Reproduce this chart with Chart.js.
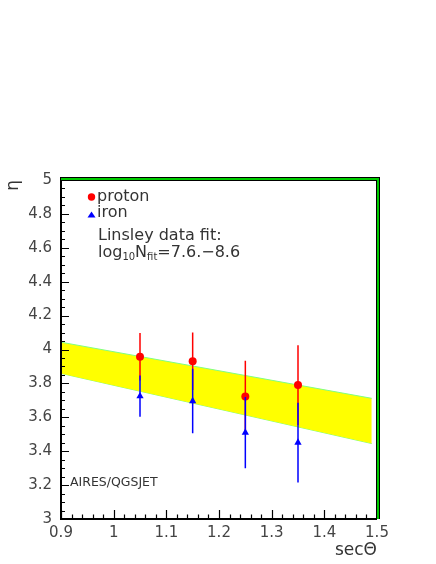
<!DOCTYPE html>
<html><head><meta charset="utf-8">
<script src="https://cdn.jsdelivr.net/npm/chart.js@4"></script>
<style>html,body{margin:0;padding:0;background:#fff;}canvas{display:block;}</style>
</head><body>
<canvas id="c" width="436" height="564"></canvas>
<script>
// ---- data ----
const secTheta  = [1.05, 1.15, 1.25, 1.35];
const protonEta = [3.957, 3.931, 3.722, 3.790];
const protonErr = [0.140, 0.170, 0.212, 0.235];
const ironEta   = [3.725, 3.696, 3.510, 3.451];
const ironErr   = [0.122, 0.190, 0.210, 0.235];
const bandX     = [0.9, 1.49];
const bandUpper = [4.043, 3.712];
const bandLower = [3.859, 3.445];
const xTicks = [0.9, 1, 1.1, 1.2, 1.3, 1.4, 1.5];
const yTicks = [3, 3.2, 3.4, 3.6, 3.8, 4, 4.2, 4.4, 4.6, 4.8, 5];
const xMinorStep = 0.02;
const yMinorStep = 0.05;

const FONT = '"DejaVu Sans", "Liberation Sans", sans-serif';

function pts(xs, ys) { return xs.map((x, i) => ({x: x, y: ys[i]})); }
function errSegments(xs, ys, es) {
  const out = [];
  xs.forEach((x, i) => {
    out.push({x: x, y: ys[i] - es[i]}, {x: x, y: ys[i] + es[i]}, {x: x, y: null});
  });
  return out;
}

const frameAndTicks = {
  id: 'frameAndTicks',
  afterDraw(chart) {
    const {ctx, chartArea: a, scales: {x, y}} = chart;
    ctx.save();
    // ticks (inward)
    ctx.strokeStyle = '#000';
    ctx.lineWidth = 1.2;
    ctx.beginPath();
    const nx = Math.round((x.max - x.min) / xMinorStep);
    for (let i = 0; i <= nx; i++) {
      const v = x.min + i * xMinorStep;
      const px = Math.round(x.getPixelForValue(v)) + 0.5;
      const len = (i % 5 === 0) ? 9 : 4.5;
      ctx.moveTo(px, a.bottom);
      ctx.lineTo(px, a.bottom - len);
    }
    const ny = Math.round((y.max - y.min) / yMinorStep);
    for (let i = 0; i <= ny; i++) {
      const v = y.min + i * yMinorStep;
      const py = Math.round(y.getPixelForValue(v)) + 0.5;
      const len = (i % 4 === 0) ? 8 : 4;
      ctx.moveTo(a.left, py);
      ctx.lineTo(a.left + len, py);
    }
    ctx.stroke();
    // axes
    ctx.lineWidth = 2;
    ctx.beginPath();
    ctx.moveTo(a.left, a.top);
    ctx.lineTo(a.left, a.bottom);
    ctx.lineTo(a.right, a.bottom);
    ctx.stroke();
    // green 3D frame strips (top & right), black outlined
    const L = Math.round(a.left) - 1, T = Math.round(a.top) - 3;
    const R = Math.round(a.right) - 1, B = Math.round(a.bottom);
    ctx.fillStyle = '#000';
    ctx.fillRect(L, T, R - L + 4, 4);
    ctx.fillRect(R, T, 4, B - T);
    ctx.fillStyle = '#00cc00';
    ctx.fillRect(L + 1, T + 1, R - L + 2, 2);
    ctx.fillRect(R + 1, T + 1, 2, B - T - 1);
    ctx.restore();
  }
};

const annotations = {
  id: 'annotations',
  afterDraw(chart) {
    const {ctx} = chart;
    ctx.save();
    ctx.textBaseline = 'alphabetic';
    ctx.textAlign = 'left';
    // legend markers
    ctx.fillStyle = '#ff0000';
    ctx.beginPath(); ctx.arc(91.5, 197, 3.7, 0, Math.PI * 2); ctx.fill();
    ctx.fillStyle = '#0000ff';
    ctx.beginPath(); ctx.moveTo(91.5, 211.5); ctx.lineTo(95.5, 217.5); ctx.lineTo(87.5, 217.5); ctx.closePath(); ctx.fill();
    ctx.fillStyle = '#333';
    ctx.font = '16px ' + FONT;
    ctx.fillText('proton', 97, 201);
    ctx.fillText('iron', 97, 217);
    ctx.fillText('Linsley data fit:', 98, 240);
    // log10Nfit=7.6.-8.6
    let xx = 98;
    const base = 257;
    const parts = [['log', 16, 0], ['10', 10, 3], ['N', 16, 0], ['fit', 10, 3], ['=7.6.\u22128.6', 16, 0]];
    parts.forEach(([t, s, dy]) => {
      ctx.font = s + 'px ' + FONT;
      ctx.fillText(t, xx, base + dy);
      xx += ctx.measureText(t).width;
    });
    ctx.font = '12.5px ' + FONT;
    ctx.fillText('AIRES/QGSJET', 70, 486);
    ctx.restore();
  }
};

new Chart(document.getElementById('c'), {
  type: 'scatter',
  data: {
    datasets: [
      { label: 'band lower', data: pts(bandX, bandLower), showLine: true, borderColor: '#80ff80',
        borderWidth: 1, pointRadius: 0, fill: false, order: 6 },
      { label: 'band upper', data: pts(bandX, bandUpper), showLine: true, borderColor: '#80ff80',
        borderWidth: 1, pointRadius: 0, fill: '-1', backgroundColor: '#ffff00', order: 5 },
      { label: 'proton err', data: errSegments(secTheta, protonEta, protonErr), showLine: true,
        spanGaps: false, borderColor: '#ff0000', borderWidth: 1.5, pointRadius: 0, order: 4 },
      { label: 'proton', data: pts(secTheta, protonEta), pointStyle: 'circle', pointRadius: 4,
        backgroundColor: '#ff0000', borderColor: '#ff0000', borderWidth: 0, order: 3 },
      { label: 'iron err', data: errSegments(secTheta, ironEta, ironErr), showLine: true,
        spanGaps: false, borderColor: '#0000ff', borderWidth: 1.5, pointRadius: 0, order: 2 },
      { label: 'iron', data: pts(secTheta, ironEta), pointStyle: 'triangle', pointRadius: 4.2,
        backgroundColor: '#0000ff', borderColor: '#0000ff', borderWidth: 0, order: 1 }
    ]
  },
  options: {
    responsive: false,
    animation: false,
    devicePixelRatio: 1,
    layout: { padding: { top: 180, right: 59, left: 0, bottom: 0 } },
    plugins: { legend: { display: false }, tooltip: { enabled: false } },
    scales: {
      x: {
        type: 'linear', min: 0.9, max: 1.5,
        afterBuildTicks: s => { s.ticks = xTicks.map(v => ({value: v})); },
        afterFit: s => { s.height = 45; },
        grid: { display: false, drawTicks: false },
        border: { display: false },
        ticks: { color: '#444', padding: 5, autoSkip: false, maxRotation: 0,
                 font: { family: FONT, size: 15 }, callback: v => String(v) },
        title: { display: true, text: 'sec\u0398', align: 'end', color: '#333',
                 font: { family: FONT, size: 17 }, padding: { top: 0, bottom: 3 } }
      },
      y: {
        type: 'linear', min: 3, max: 5,
        afterBuildTicks: s => { s.ticks = yTicks.map(v => ({value: v})); },
        afterFit: s => { s.width = 61; },
        grid: { display: false, drawTicks: false },
        border: { display: false },
        ticks: { color: '#444', padding: 9, autoSkip: false,
                 font: { family: FONT, size: 15 }, callback: v => String(v) },
        title: { display: true, text: '\u03b7', align: 'end', color: '#333',
                 font: { family: FONT, size: 17 }, padding: { top: 3, bottom: 0 } }
      }
    }
  },
  plugins: [frameAndTicks, annotations]
});
</script>
</body></html>
